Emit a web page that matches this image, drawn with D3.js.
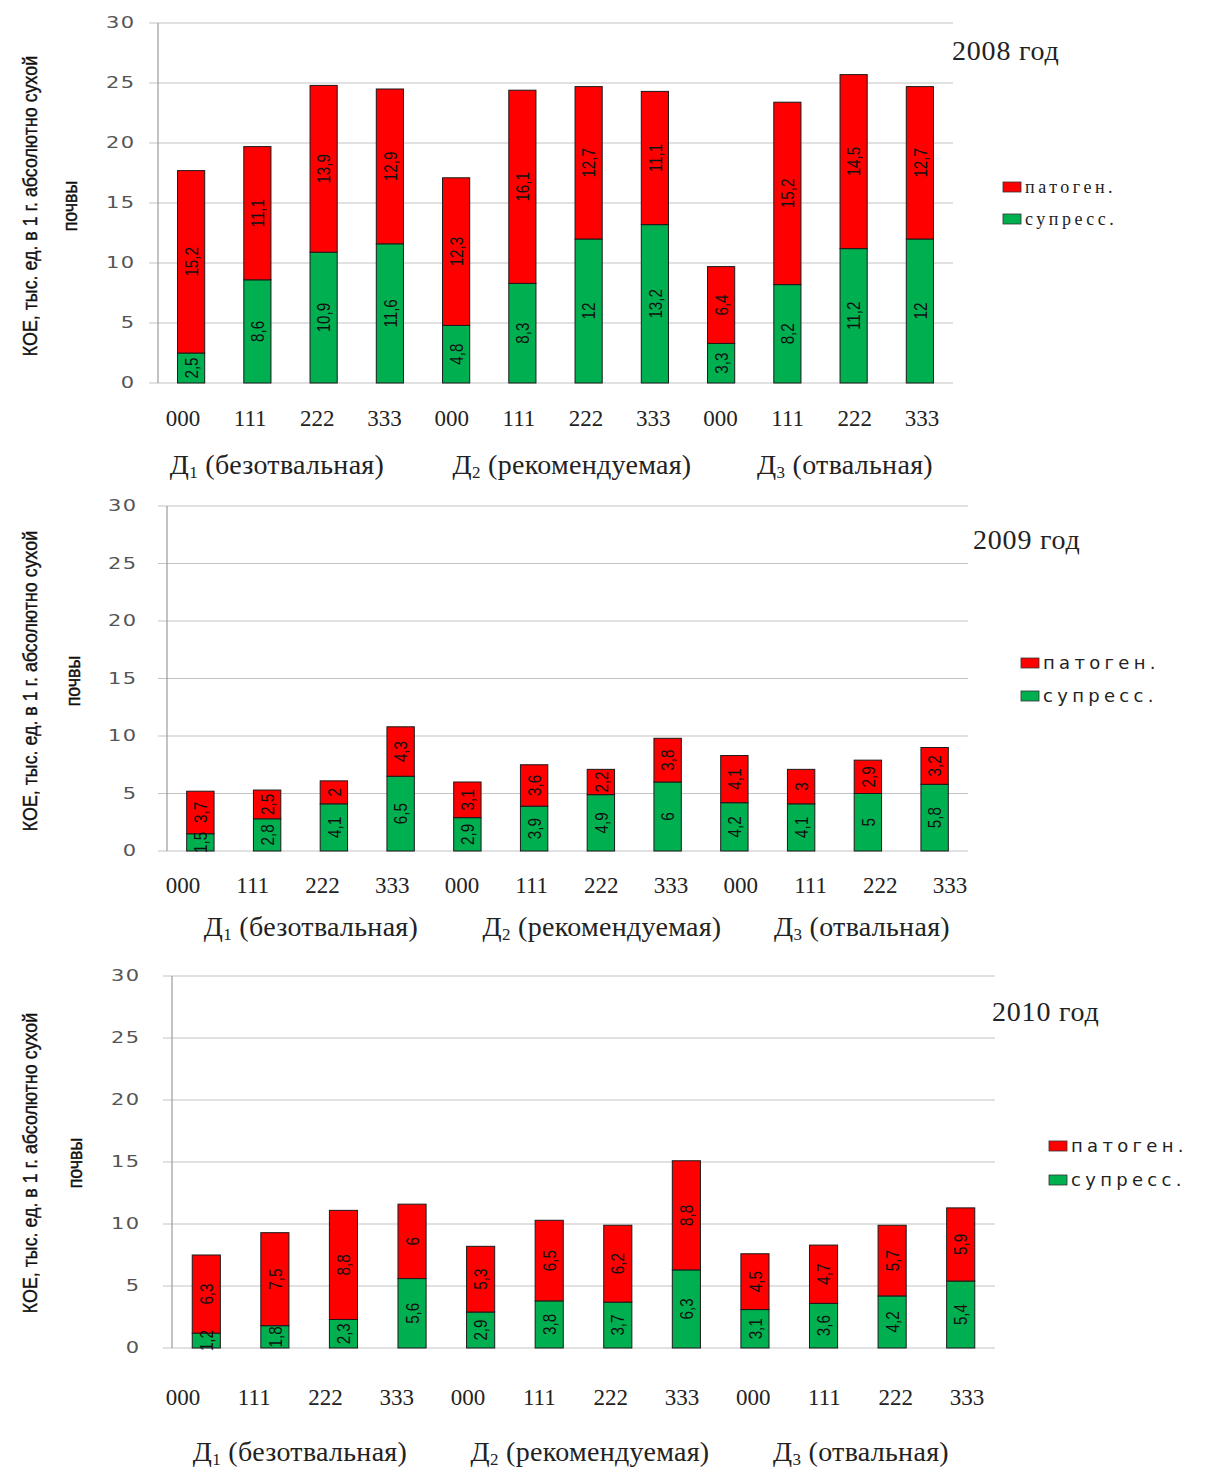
<!DOCTYPE html>
<html>
<head>
<meta charset="utf-8">
<script src="https://cdnjs.cloudflare.com/ajax/libs/d3/7.8.5/d3.min.js"></script>
<style>
  html, body { margin: 0; padding: 0; background: #fff; }
  svg { display: block; }
</style>
</head>
<body>
<svg id="chart" width="1205" height="1470"></svg>
<script>
// Treatment codes under each bar, grouped by tillage type
const categories = ["000", "111", "222", "333", "000", "111", "222", "333", "000", "111", "222", "333"];
const groupCodes = ["1", "2", "3"];
const groupNames = ["(безотвальная)", "(рекомендуемая)", "(отвальная)"];
const years = ["2008 год", "2009 год", "2010 год"];
const seriesNames = ["патоген.", "супресс."];
const yTicks = [0, 5, 10, 15, 20, 25, 30];
const axisTitle = ["КОЕ, тыс. ед. в 1 г. абсолютно сухой", "почвы"];

// Suppressive (green) and pathogenic (red) microflora, thousand CFU per 1 g of soil
const suppress2008 = [2.5, 8.6, 10.9, 11.6, 4.8, 8.3, 12, 13.2, 3.3, 8.2, 11.2, 12];
const pathogen2008 = [15.2, 11.1, 13.9, 12.9, 12.3, 16.1, 12.7, 11.1, 6.4, 15.2, 14.5, 12.7];
const suppress2009 = [1.5, 2.8, 4.1, 6.5, 2.9, 3.9, 4.9, 6, 4.2, 4.1, 5, 5.8];
const pathogen2009 = [3.7, 2.5, 2, 4.3, 3.1, 3.6, 2.2, 3.8, 4.1, 3, 2.9, 3.2];
const suppress2010 = [1.2, 1.8, 2.3, 5.6, 2.9, 3.8, 3.7, 6.3, 3.1, 3.6, 4.2, 5.4];
const pathogen2010 = [6.3, 7.5, 8.8, 6, 5.3, 6.5, 6.2, 8.8, 4.5, 4.7, 5.7, 5.9];

const panels = [
  { year: years[0], suppress: suppress2008, pathogen: pathogen2008 },
  { year: years[1], suppress: suppress2009, pathogen: pathogen2009 },
  { year: years[2], suppress: suppress2010, pathogen: pathogen2010 }
];

// Page placement of each panel
const layouts = [
  { x0: 158, x1: 953, yTop: 23, yBot: 383, tickX: 134, lab0: 183, lab1: 922, labY: 426,
    grpY: 474, grpX: [277, 572, 845], yearX: 952, yearY: 60,
    legX: 1003, legY: 187, legStep: 32, legSerif: true, titleX: [30, 70], titleY: 206 },
  { x0: 167, x1: 968, yTop: 506, yBot: 851, tickX: 136, lab0: 183, lab1: 950, labY: 893,
    grpY: 936, grpX: [311, 602, 862], yearX: 973, yearY: 549,
    legX: 1021, legY: 663, legStep: 33, legSerif: false, titleX: [30, 73], titleY: 681 },
  { x0: 172, x1: 995, yTop: 976, yBot: 1348, tickX: 139, lab0: 183, lab1: 967, labY: 1405,
    grpY: 1461, grpX: [300, 590, 861], yearX: 992, yearY: 1021,
    legX: 1049, legY: 1146, legStep: 34, legSerif: false, titleX: [30, 75], titleY: 1163 }
];

const colors = { pathogen: "#ff0000", suppress: "#00b050" };
const serif = "'Liberation Serif', 'Times New Roman', serif";
const sans = "'Liberation Sans', Arial, sans-serif";
const wide = "'DejaVu Sans', Verdana, sans-serif";

const svg = d3.select("#chart");
const fmt = v => String(v).replace(".", ",");

panels.forEach((p, pi) => {
  const L = layouts[pi];
  const g = svg.append("g");

  const rows = categories.map((c, i) => ({ idx: i, code: c, suppress: p.suppress[i], pathogen: p.pathogen[i] }));

  const x = d3.scaleBand()
    .domain(rows.map(d => d.idx))
    .range([L.x0, L.x1])
    .paddingInner(0.59)
    .paddingOuter(0.295);
  const y = d3.scaleLinear().domain([0, 30]).range([L.yBot, L.yTop]);

  // Horizontal gridlines with short ticks left of the axis
  g.append("g")
    .selectAll("line")
    .data(yTicks)
    .join("line")
    .attr("x1", L.x0 - 9)
    .attr("x2", L.x1)
    .attr("y1", d => y(d))
    .attr("y2", d => y(d))
    .attr("stroke", "#c4c4c4")
    .attr("stroke-width", 1.2);

  // Vertical value axis
  g.append("line")
    .attr("x1", L.x0).attr("x2", L.x0)
    .attr("y1", y(30)).attr("y2", y(0))
    .attr("stroke", "#9a9a9a")
    .attr("stroke-width", 1.2);

  // Wide tick numbers
  g.append("g")
    .selectAll("text")
    .data(yTicks)
    .join("text")
    .attr("transform", d => `translate(${L.tickX},${y(d)}) scale(1.4,1)`)
    .attr("dy", "0.35em")
    .attr("dx", 1)
    .attr("text-anchor", "end")
    .attr("font-family", wide)
    .attr("font-size", 15)
    .attr("letter-spacing", 1)
    .attr("fill", "#555")
    .text(d => d);

  // Stacked bars: suppressive at the bottom, pathogenic on top
  const stack = d3.stack().keys(["suppress", "pathogen"]);
  const series = stack(rows);

  const segs = g.append("g")
    .selectAll("g")
    .data(series)
    .join("g")
    .attr("fill", s => colors[s.key]);

  segs.selectAll("rect")
    .data(s => s)
    .join("rect")
    .attr("x", d => x(d.data.idx))
    .attr("width", x.bandwidth())
    .attr("y", d => y(d[1]))
    .attr("height", d => y(d[0]) - y(d[1]))
    .attr("stroke", "#1a1a1a")
    .attr("stroke-width", 1);

  // Vertical value labels centred in each segment (condensed)
  const labels = g.append("g");
  series.forEach(s => {
    labels.selectAll(null)
      .data(s)
      .join("text")
      .attr("transform", d => `translate(${x(d.data.idx) + x.bandwidth() / 2},${y((d[0] + d[1]) / 2)}) rotate(-90) scale(0.8,1)`)
      .attr("text-anchor", "middle")
      .attr("dy", "0.35em")
      .attr("font-family", sans)
      .attr("font-size", 19)
      .attr("fill", "#111")
      .text(d => fmt(d.data[s.key]));
  });

  // Treatment codes row
  const lx = d3.scalePoint().domain(rows.map(d => d.idx)).range([L.lab0, L.lab1]);
  g.append("g")
    .selectAll("text")
    .data(rows)
    .join("text")
    .attr("x", d => lx(d.idx))
    .attr("y", L.labY)
    .attr("text-anchor", "middle")
    .attr("font-family", serif)
    .attr("font-size", 23)
    .attr("fill", "#222")
    .text(d => d.code);

  // Tillage group captions: Д with subscript number
  groupNames.forEach((name, gi) => {
    const t = g.append("text")
      .attr("x", L.grpX[gi])
      .attr("y", L.grpY)
      .attr("text-anchor", "middle")
      .attr("font-family", serif)
      .attr("font-size", 28)
      .attr("letter-spacing", 0.3)
      .attr("fill", "#222");
    t.append("tspan").text("Д");
    t.append("tspan").attr("font-size", 17).attr("dy", 4).text(groupCodes[gi]);
    t.append("tspan").attr("dy", -4).text(" " + name);
  });

  // Year caption
  g.append("text")
    .attr("x", L.yearX)
    .attr("y", L.yearY)
    .attr("font-family", serif)
    .attr("font-size", 28)
    .attr("letter-spacing", 0.8)
    .attr("fill", "#222")
    .text(p.year);

  // Legend
  const legend = g.append("g");
  const legKeys = ["pathogen", "suppress"];
  legKeys.forEach((k, li) => {
    const cy = L.legY + li * L.legStep;
    legend.append("rect")
      .attr("x", L.legX)
      .attr("y", cy - 5)
      .attr("width", 18)
      .attr("height", 10)
      .attr("fill", colors[k])
      .attr("stroke", "#333")
      .attr("stroke-width", 0.8);
    legend.append("text")
      .attr("x", L.legX + 22)
      .attr("y", cy)
      .attr("dy", "0.35em")
      .attr("font-family", L.legSerif ? serif : wide)
      .attr("font-size", L.legSerif ? 18 : 18)
      .attr("letter-spacing", L.legSerif ? 3.5 : 4.3)
      .attr("fill", "#222")
      .text(seriesNames[li]);
  });

  // Value axis title in two rotated, condensed lines
  axisTitle.forEach((line, ti) => {
    g.append("text")
      .attr("transform", `translate(${L.titleX[ti]},${L.titleY}) rotate(-90) scale(0.85,1)`)
      .attr("text-anchor", "middle")
      .attr("dy", "0.35em")
      .attr("font-family", sans)
      .attr("font-size", 21)
      .attr("fill", "#111")
      .attr("stroke", "#111")
      .attr("stroke-width", 0.4)
      .text(line);
  });
});
</script>
</body>
</html>
